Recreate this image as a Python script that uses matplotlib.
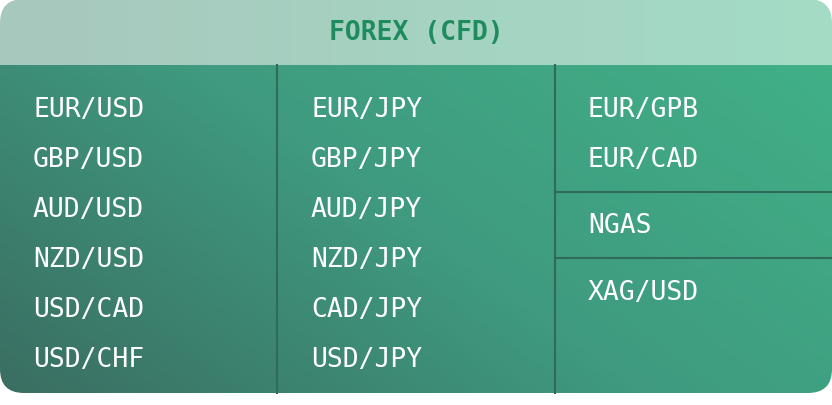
import numpy as np
import matplotlib.pyplot as plt
from matplotlib.patches import FancyBboxPatch
from matplotlib.colors import LinearSegmentedColormap

title = "FOREX (CFD)"
col1 = ["EUR/USD", "GBP/USD", "AUD/USD", "NZD/USD", "USD/CAD", "USD/CHF"]
col2 = ["EUR/JPY", "GBP/JPY", "AUD/JPY", "NZD/JPY", "CAD/JPY", "USD/JPY"]
col3 = ["EUR/GPB", "EUR/CAD", "NGAS", "XAG/USD"]
col3_y = [110, 160, 226, 293]

W, H = 832, 406
fig = plt.figure(figsize=(W / 100, H / 100), dpi=100)
ax = fig.add_axes([0, 0, 1, 1])
ax.set_xlim(0, W)
ax.set_ylim(H, 0)
ax.axis("off")

# whole card shape (rounded) used as clip
card = FancyBboxPatch((0, 0), W, 394, boxstyle="round,pad=0,rounding_size=24",
                      transform=ax.transData, facecolor="none", edgecolor="none")
ax.add_patch(card)

# body gradient: dark bottom-left -> bright top-right
xx, yy = np.meshgrid(np.linspace(0, 1, 200), np.linspace(0, 1, 100))
t = (xx * 0.65 + (1 - yy) * 0.35)
body_cmap = LinearSegmentedColormap.from_list("body", ["#3a6e62", "#3f9a7f", "#41b087"])
im = ax.imshow(t, cmap=body_cmap, extent=(0, W, 394, 66), aspect="auto", zorder=1)
im.set_clip_path(card)

# header gradient
head_cmap = LinearSegmentedColormap.from_list("head", ["#a8c8bd", "#a3dcc6"])
hx = np.linspace(0, 1, 200)[None, :]
im2 = ax.imshow(hx, cmap=head_cmap, extent=(0, W, 66, 0), aspect="auto", zorder=2)
im2.set_clip_path(card)

ax.text(W / 2, 33, title, ha="center", va="center", fontsize=19, fontweight="bold",
        family="DejaVu Sans Mono", color="#1f8c5f", zorder=5)

# dividers
line_c = "#2f6a5a"
ax.plot([277, 277], [66, 394], color=line_c, lw=1.5, zorder=3)
ax.plot([555, 555], [66, 394], color=line_c, lw=1.5, zorder=3)
ax.plot([555, W], [193, 193], color=line_c, lw=1.5, zorder=3)
ax.plot([555, W], [259, 259], color=line_c, lw=1.5, zorder=3)

rows_y = [110, 160, 210, 260, 310, 360]
style = dict(ha="left", va="center", fontsize=19, family="DejaVu Sans Mono",
             color="white", zorder=5)
for name, y in zip(col1, rows_y):
    ax.text(33, y, name, **style)
for name, y in zip(col2, rows_y):
    ax.text(311, y, name, **style)
for name, y in zip(col3, col3_y):
    ax.text(588, y, name, **style)

fig.savefig("out.png", dpi=100, transparent=True)
